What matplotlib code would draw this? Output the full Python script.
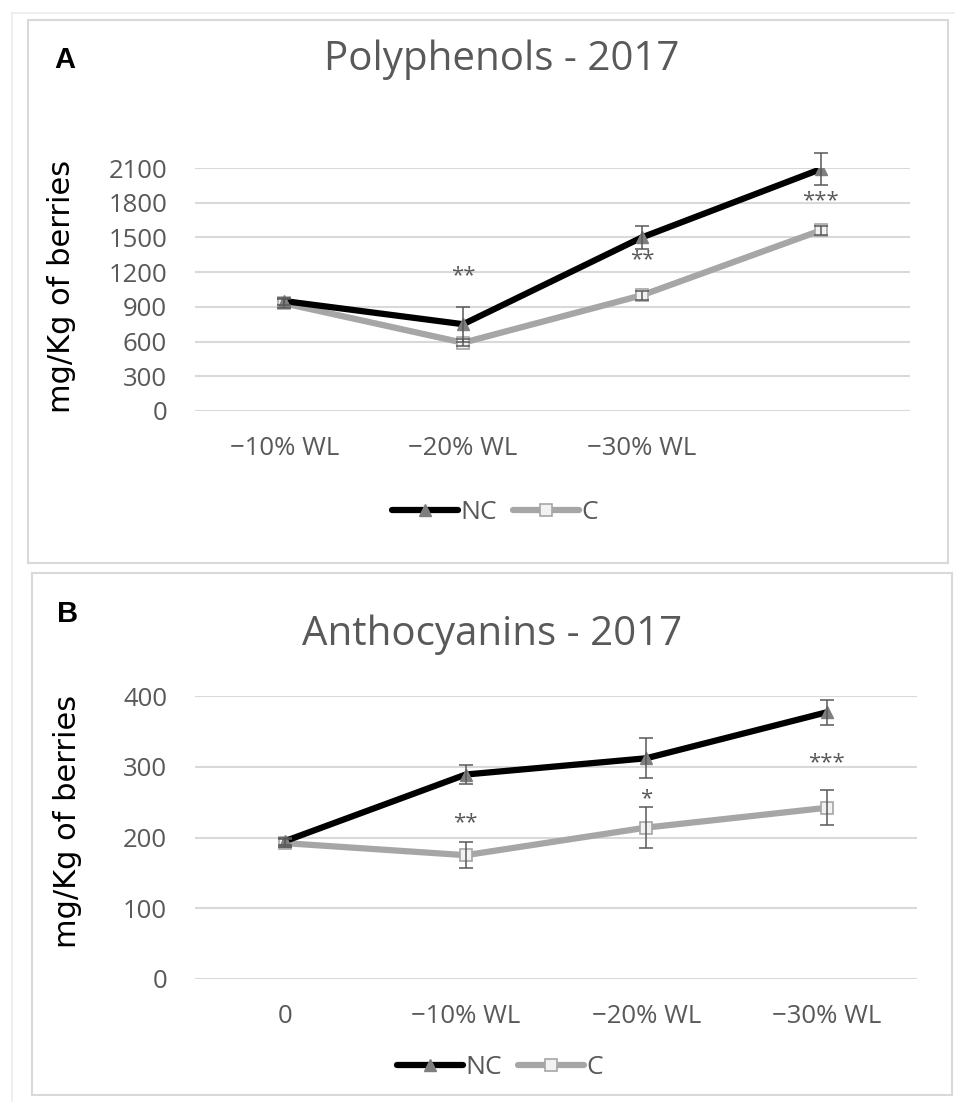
import matplotlib

matplotlib.use("Agg")
import matplotlib.pyplot as plt
import numpy as np
from matplotlib.lines import Line2D
from matplotlib.patches import Rectangle

W, H = 955, 1102
TEXT_GRAY = "#595959"
GRID = "#d9d9d9"
NC_COLOR = "#000000"
C_COLOR = "#a6a6a6"
SANS = ["Open Sans", "DejaVu Sans"]

# Panel A - polyphenols
poly_labels = ["\u221210% WL", "\u221220% WL", "\u221230% WL", ""]
poly_nc = [950, 750, 1500, 2090]
poly_nc_err = [30, 150, 100, 140]
poly_c = [930, 590, 1000, 1560]
poly_c_err = [40, 30, 40, 40]
poly_stars = ["", "**", "**", "***"]
poly_star_y = [np.nan, 1170, 1310, 1820]
poly_ticks = [0, 300, 600, 900, 1200, 1500, 1800, 2100]

# Panel B - anthocyanins
anth_labels = ["0", "\u221210% WL", "\u221220% WL", "\u221230% WL"]
anth_nc = [195, 289, 312, 377]
anth_nc_err = [5, 13, 28, 18]
anth_c = [192, 175, 214, 242]
anth_c_err = [6, 18, 29, 25]
anth_stars = ["", "**", "*", "***"]
anth_star_y = [np.nan, 221, 255, 306]
anth_ticks = [0, 100, 200, 300, 400]


def px_box(x0, y0, x1, y1):
    # pixel box (top-left origin) -> figure rect
    return [x0 / W, 1 - y1 / H, (x1 - x0) / W, (y1 - y0) / H]


def draw_panel(fig, rect, labels, nc, nc_err, c, c_err, stars, star_y, ticks):
    ax = fig.add_axes(rect)
    x = np.arange(len(labels))

    ax.plot(x, c, color=C_COLOR, lw=4.5, marker="s", ms=8, mfc="#f2f2f2",
            mec=C_COLOR, mew=1.2, label="C", zorder=3, solid_capstyle="round")
    ax.plot(x, nc, color=NC_COLOR, lw=4.5, marker="^", ms=8, mfc="#7f7f7f",
            mec="#7f7f7f", label="NC", zorder=4, solid_capstyle="round")
    ax.errorbar(x, c, yerr=c_err, fmt="none", ecolor=TEXT_GRAY, elinewidth=1.1,
                capsize=5, capthick=1.1, zorder=5, clip_on=False)
    ax.errorbar(x, nc, yerr=nc_err, fmt="none", ecolor=TEXT_GRAY, elinewidth=1.1,
                capsize=5, capthick=1.1, zorder=5, clip_on=False)

    for xi, s, sy in zip(x, stars, star_y):
        if s:
            ax.text(xi, sy, s, ha="center", va="center", fontsize=16,
                    color=TEXT_GRAY, family=SANS)

    ax.set_xlim(-0.5, len(labels) - 0.5)
    ax.set_ylim(ticks[0], ticks[-1])
    ax.set_yticks(ticks)
    ax.set_xticks(x)
    ax.set_xticklabels(labels)
    ax.grid(True, axis="y", color=GRID, lw=1.5)
    ax.set_axisbelow(True)
    for spine in ax.spines.values():
        spine.set_visible(False)
    ax.tick_params(axis="both", length=0, labelsize=18.5, labelcolor=TEXT_GRAY)
    ax.tick_params(axis="y", pad=20)
    ax.tick_params(axis="x", pad=18)
    for lab in ax.get_xticklabels() + ax.get_yticklabels():
        lab.set_family(SANS)
    return ax


fig = plt.figure(figsize=(W / 100, H / 100), dpi=100)

# faint outer frame lines of the original page
fig.add_artist(Line2D([12 / W, 12 / W], [0, 1 - 13 / H], transform=fig.transFigure,
                      color="#ececec", lw=1.2))
fig.add_artist(Line2D([12 / W, 1], [1 - 13 / H, 1 - 13 / H], transform=fig.transFigure,
                      color="#ececec", lw=1.2))

# panel frames
fig.patches.append(Rectangle((28 / W, 1 - 563 / H), 920 / W, 543 / H, transform=fig.transFigure,
                             fill=False, edgecolor="#d9d9d9", lw=1.5))
fig.patches.append(Rectangle((32 / W, 1 - 1095 / H), 920 / W, 522 / H, transform=fig.transFigure,
                             fill=False, edgecolor="#d9d9d9", lw=1.5))

ax_a = draw_panel(fig, px_box(195, 168, 910, 411), poly_labels, poly_nc, poly_nc_err,
                  poly_c, poly_c_err, poly_stars, poly_star_y, poly_ticks)
ax_b = draw_panel(fig, px_box(195, 696, 917, 979), anth_labels, anth_nc, anth_nc_err,
                  anth_c, anth_c_err, anth_stars, anth_star_y, anth_ticks)

# titles, panel letters, y labels
fig.text(502 / W, 1 - 70 / H, "Polyphenols - 2017", ha="center", va="baseline",
         fontsize=29, color=TEXT_GRAY, family=SANS)
fig.text(492 / W, 1 - 645 / H, "Anthocyanins - 2017", ha="center", va="baseline",
         fontsize=29, color=TEXT_GRAY, family=SANS)
fig.text(54 / W, 1 - 68 / H, "A", ha="left", va="baseline", fontsize=21,
         fontweight="bold", color="black", family="Liberation Sans")
fig.text(57 / W, 1 - 622 / H, "B", ha="left", va="baseline", fontsize=21,
         fontweight="bold", color="black", family="Liberation Sans")
fig.text(62 / W, 1 - 286 / H, "mg/Kg of berries", rotation=90, ha="center", va="center",
         fontsize=22, color="black", family="DejaVu Sans")
fig.text(67 / W, 1 - 821 / H, "mg/Kg of berries", rotation=90, ha="center", va="center",
         fontsize=22, color="black", family="DejaVu Sans")

# legends, NC first
for ax, yc, xc in ((ax_a, 513, 495), (ax_b, 1068, 500)):
    handles, names = ax.get_legend_handles_labels()
    order = [names.index("NC"), names.index("C")]
    leg = fig.legend([handles[i] for i in order], [names[i] for i in order],
                     loc="center", bbox_to_anchor=(xc / W, 1 - yc / H), ncol=2,
                     frameon=False, handlelength=2.5, handletextpad=0.1,
                     columnspacing=0.6, prop={"family": SANS, "size": 19})
    for t in leg.get_texts():
        t.set_color(TEXT_GRAY)

fig.savefig("out.png", dpi=100)
